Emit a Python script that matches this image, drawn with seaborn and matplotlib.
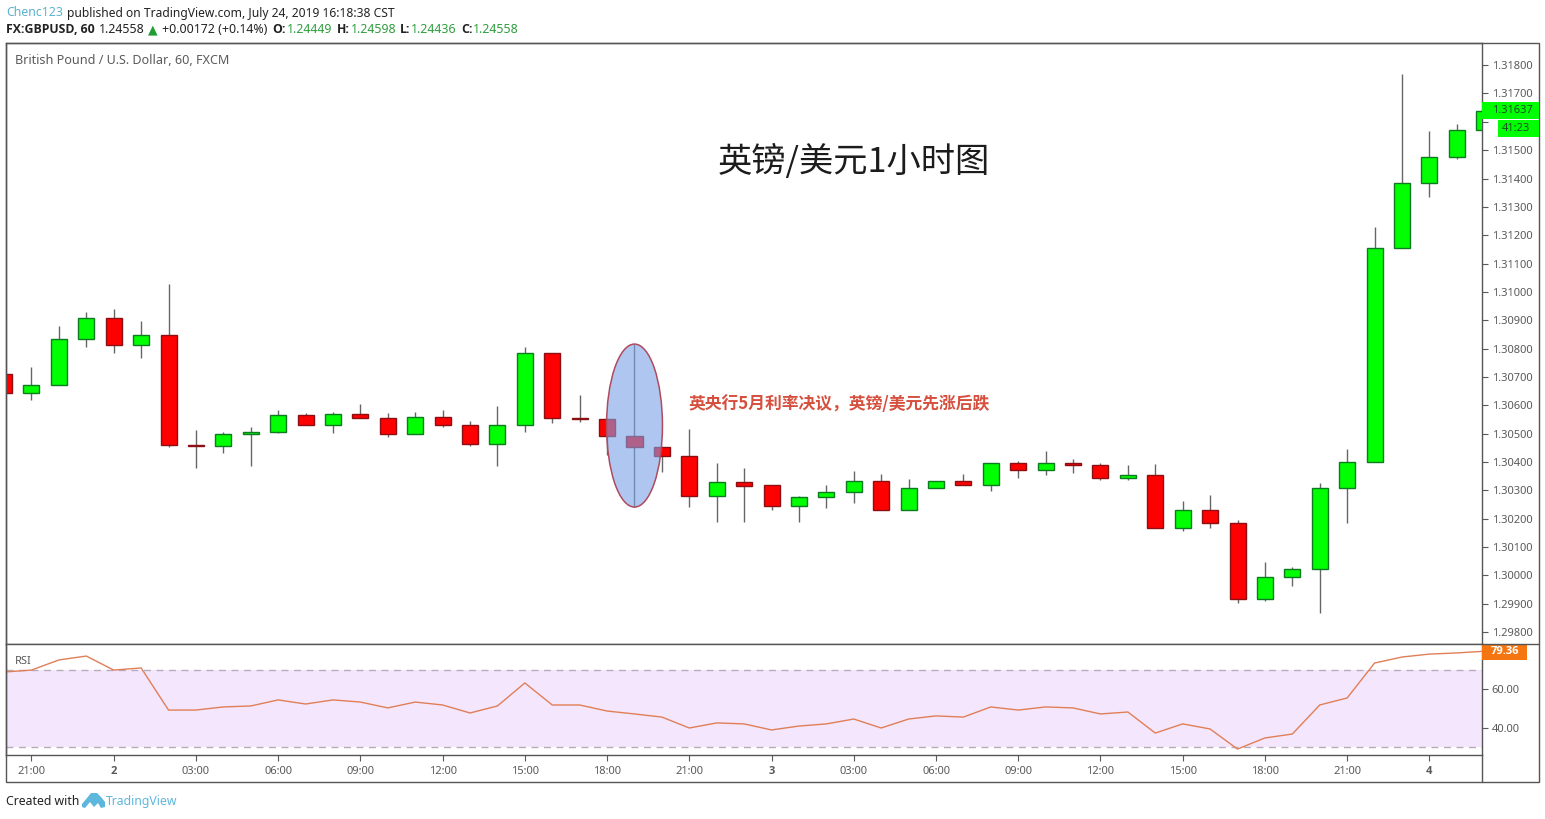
import pandas as pd
import matplotlib.pyplot as plt
import seaborn as sns
from matplotlib.lines import Line2D
from matplotlib.patches import Ellipse, Polygon, Rectangle

# candles, one per hour
opens = [1.30710, 1.30643, 1.30671, 1.30833, 1.30907, 1.30812, 1.30847, 1.30459, 1.30456, 1.30498, 1.30505,
         1.30565, 1.30530, 1.30569, 1.30555, 1.30498, 1.30558, 1.30530, 1.30463, 1.30530, 1.30784, 1.30555,
         1.30552, 1.30491, 1.30452, 1.30421, 1.30279, 1.30329, 1.30318, 1.30244, 1.30276, 1.30294, 1.30332,
         1.30230, 1.30308, 1.30332, 1.30318, 1.30396, 1.30371, 1.30396, 1.30389, 1.30343, 1.30353, 1.30167,
         1.30230, 1.30184, 1.29916, 1.29994, 1.30022, 1.30308, 1.30399, 1.31154, 1.31383, 1.31475, 1.31570]
highs = [1.30710, 1.30734, 1.30879, 1.30928, 1.30939, 1.30897, 1.31027, 1.30512, 1.30505, 1.30523, 1.30583,
         1.30572, 1.30576, 1.30604, 1.30572, 1.30576, 1.30583, 1.30544, 1.30597, 1.30805, 1.30784, 1.30636,
         1.30555, 1.30816, 1.30452, 1.30516, 1.30396, 1.30378, 1.30318, 1.30280, 1.30318, 1.30368, 1.30357,
         1.30339, 1.30332, 1.30357, 1.30396, 1.30403, 1.30438, 1.30410, 1.30396, 1.30389, 1.30392, 1.30262,
         1.30283, 1.30195, 1.30047, 1.30029, 1.30325, 1.30445, 1.31228, 1.31768, 1.31567, 1.31592, 1.31650]
lows = [1.30643, 1.30618, 1.30671, 1.30805, 1.30784, 1.30766, 1.30452, 1.30378, 1.30431, 1.30385, 1.30502,
        1.30530, 1.30502, 1.30555, 1.30487, 1.30498, 1.30523, 1.30456, 1.30385, 1.30505, 1.30537, 1.30540,
        1.30424, 1.30241, 1.30364, 1.30241, 1.30188, 1.30188, 1.30230, 1.30188, 1.30237, 1.30255, 1.30230,
        1.30230, 1.30308, 1.30318, 1.30297, 1.30343, 1.30353, 1.30360, 1.30336, 1.30336, 1.30167, 1.30156,
        1.30167, 1.29902, 1.29909, 1.29962, 1.29867, 1.30184, 1.30399, 1.31154, 1.31334, 1.31468, 1.31565]
closes = [1.30643, 1.30671, 1.30833, 1.30907, 1.30812, 1.30847, 1.30459, 1.30456, 1.30498, 1.30505, 1.30565,
          1.30530, 1.30569, 1.30555, 1.30498, 1.30558, 1.30530, 1.30463, 1.30530, 1.30784, 1.30555, 1.30552,
          1.30491, 1.30452, 1.30421, 1.30279, 1.30329, 1.30315, 1.30244, 1.30276, 1.30294, 1.30332, 1.30230,
          1.30308, 1.30332, 1.30318, 1.30396, 1.30371, 1.30396, 1.30389, 1.30343, 1.30353, 1.30167, 1.30230,
          1.30184, 1.29916, 1.29994, 1.30022, 1.30308, 1.30399, 1.31154, 1.31383, 1.31475, 1.31570, 1.31637]
rsi = [68.7, 69.7, 74.9, 76.9, 69.7, 70.8, 49.2, 49.2, 50.8, 51.3, 54.4, 52.3, 54.4, 53.3, 50.3, 53.3, 51.8, 47.7,
       51.3, 63.1, 51.8, 51.8, 48.7, 47.2, 45.6, 40.0, 42.6, 42.1, 39.0, 41.0, 42.1, 44.6, 40.0, 44.6, 46.2, 45.6,
       50.8, 49.2, 50.8, 50.3, 47.2, 48.2, 37.4, 42.1, 39.5, 29.2, 34.9, 36.9, 51.8, 55.4, 73.3, 76.4, 77.9, 78.5,
       79.36]

time_ticks = [1, 4, 7, 10, 13, 16, 19, 22, 25, 28, 31, 34, 37, 40, 43, 46, 49, 52]
time_labels = ['21:00', '2', '03:00', '06:00', '09:00', '12:00', '15:00', '18:00', '21:00', '3',
               '03:00', '06:00', '09:00', '12:00', '15:00', '18:00', '21:00', '4']
price_ticks = [1.298, 1.299, 1.300, 1.301, 1.302, 1.303, 1.304, 1.305, 1.306, 1.307, 1.308, 1.309, 1.310,
               1.311, 1.312, 1.313, 1.314, 1.315, 1.316, 1.317, 1.318]
price_hidden = 1.316  # sits under the last price tags
rsi_ticks = [40, 60]
rsi_upper, rsi_lower = 70, 30
rate_decision_bar = 23

W, H = 1545, 819
GREEN, RED = '#00ff00', '#ff0000'
GREEN_EDGE, RED_EDGE = '#0e7a22', '#8c0f14'
GREY = '#5a5a5a'
FRAME = '#555555'
CJK = ['Noto Sans CJK SC', 'DejaVu Sans']

sns.set_theme(style='white')
plt.rcParams['font.family'] = ['Noto Sans', 'Noto Sans CJK SC', 'DejaVu Sans']

df = pd.DataFrame({'bar': range(len(opens)), 'open': opens, 'high': highs, 'low': lows, 'close': closes, 'rsi': rsi})
df['up'] = df['close'] >= df['open']

fig = plt.figure(figsize=(W / 100, H / 100), dpi=100, facecolor='white')
ax = fig.add_axes([6 / W, 1 - 644 / H, 1476 / W, 601 / H])
ax_rsi = fig.add_axes([6 / W, 1 - 755 / H, 1476 / W, 111 / H], sharex=ax)


def fx(x):
    return x / W


def fy(y):
    return 1 - y / H


def label(x, y, s, **kw):
    kw.setdefault('fontsize', 8.9)
    kw.setdefault('color', '#222222')
    return fig.text(fx(x), fy(y), s, va='center', **kw)


def bold_label(x, y, s, **kw):
    return label(x, y, s, family='Open Sans', fontweight='bold', **kw)


# candles
ax.vlines(df['bar'], df['low'], df['high'], color='#666666', linewidth=1, zorder=2)
ax.bar(df['bar'], (df['close'] - df['open']).abs(), bottom=df[['open', 'close']].min(axis=1), width=0.584,
       color=[GREEN if u else RED for u in df['up']], edgecolor=[GREEN_EDGE if u else RED_EDGE for u in df['up']],
       linewidth=1, zorder=3)

# highlight round the rate decision bar
pick = df.loc[rate_decision_bar]
ax.add_patch(Ellipse((pick['bar'], (pick['high'] + pick['low']) / 2), 2.04, pick['high'] - pick['low'],
                     facecolor='#7aa3e6', alpha=0.6, edgecolor='none', zorder=4))
ax.add_patch(Ellipse((pick['bar'], (pick['high'] + pick['low']) / 2), 2.04, pick['high'] - pick['low'],
                     facecolor='none', edgecolor='#b04a5f', linewidth=1.1, zorder=5))

ax.set_xlim(0.07, 53.92)
ax.set_ylim(1.29758, 1.31878)
ax.yaxis.tick_right()
ax.set_yticks(price_ticks)
ax.set_yticklabels(['' if p == price_hidden else f'{p:.5f}' for p in price_ticks])
ax.tick_params(axis='y', length=4, width=0.8, color=GREY, labelcolor=GREY, labelsize=8, pad=3, right=True)
ax.tick_params(axis='x', bottom=False, labelbottom=False)
ax.set_xlabel('')
ax.set_ylabel('')

# rsi panel
ax_rsi.axhspan(rsi_lower, rsi_upper, color='#f4e6fd', linewidth=0, zorder=1)
for level in (rsi_upper, rsi_lower):
    ax_rsi.axhline(level, color='#b8acba', linewidth=1, dashes=(5, 4), zorder=2)
sns.lineplot(data=df, x='bar', y='rsi', ax=ax_rsi, color='#e07f57', linewidth=1, zorder=3, errorbar=None)
ax_rsi.set_ylim(26.15, 83.08)
ax_rsi.yaxis.tick_right()
ax_rsi.set_yticks(rsi_ticks)
ax_rsi.set_yticklabels([f'{v:.2f}' for v in rsi_ticks])
ax_rsi.tick_params(axis='y', length=4, width=0.8, color=GREY, labelcolor=GREY, labelsize=8, pad=3, right=True)
ax_rsi.set_xticks(time_ticks)
ax_rsi.set_xticklabels(time_labels)
ax_rsi.tick_params(axis='x', length=4, width=0.8, color=GREY, labelcolor=GREY, labelsize=8, pad=4, bottom=True)
for tick_text in ax_rsi.get_xticklabels():
    if len(tick_text.get_text()) == 1:
        tick_text.set_family('Open Sans')
        tick_text.set_fontweight('bold')
ax_rsi.set_xlabel('')
ax_rsi.set_ylabel('')

for a in (ax, ax_rsi):
    for spine in a.spines.values():
        spine.set_color(FRAME)
        spine.set_linewidth(1)
ax_rsi.spines['top'].set_visible(False)

# outer frame and the panel dividers
fig.add_artist(Rectangle((fx(6), fy(782)), 1533 / W, 739 / H, transform=fig.transFigure, fill=False,
                         edgecolor=FRAME, linewidth=1))
fig.add_artist(Line2D([fx(1482), fx(1482)], [fy(755), fy(782)], color=FRAME, linewidth=1))
fig.add_artist(Line2D([fx(6), fx(1539)], [fy(644), fy(644)], color=FRAME, linewidth=1))

# header
label(6, 13, 'Chenc123', color='#5bb3cf')
label(67, 13, 'published on TradingView.com, July 24, 2019 16:18:38 CST', fontsize=8.68)
bold_label(6, 29.5, 'FX:GBPUSD, 60', fontsize=8.8)
label(99, 29.5, '1.24558')
label(148, 29.5, '▲', color='#1f9e34', family='DejaVu Sans', fontsize=9)
label(162, 29.5, '+0.00172 (+0.14%)')
for x_key, key, x_val, val in [(272, 'O:', 287, '1.24449'), (337, 'H:', 351, '1.24598'),
                               (400, 'L:', 411, '1.24436'), (461, 'C:', 473, '1.24558')]:
    bold_label(x_key, 29.5, key, fontsize=8.8)
    label(x_val, 29.5, val, color='#2e9e3e')

label(15, 60.5, 'British Pound / U.S. Dollar, 60, FXCM', color='#5a5a5a', fontsize=9.05, fontweight='medium')
label(15, 661.5, 'RSI', color=GREY, fontsize=8)

# chart notes
label(718, 162.5, '英镑/美元1小时图', color='#1c1c1c', fontsize=24.7, family=CJK)
label(689, 404, '英央行5月利率决议，英镑/美元先涨后跌', color='#d6503f', fontsize=12.1, fontweight='bold', family=CJK)

# last price tags
fig.add_artist(Rectangle((fx(1482), fy(119)), 57 / W, 17 / H, transform=fig.transFigure, color=GREEN, linewidth=0))
fig.add_artist(Rectangle((fx(1498), fy(137)), 41 / W, 17 / H, transform=fig.transFigure, color=GREEN, linewidth=0))
label(1492, 110.5, '1.31637', color='#1a4d22', fontsize=8)
label(1502, 128.5, '41:23', color='#1a4d22', fontsize=8)
fig.add_artist(Rectangle((fx(1482), fy(660)), 45 / W, 16 / H, transform=fig.transFigure, color='#f57510', linewidth=0))
label(1491, 652, '79.36', color='white', fontsize=8, family='Open Sans', fontweight='bold')

# footer
label(6, 801.5, 'Created with', color='#222222', fontsize=8.8)
cloud = [(82, 807), (82, 804), (87, 798), (91, 793), (97, 793), (101, 797), (105, 802), (105, 807), (101, 808),
         (98, 803), (94, 807), (90, 802), (85, 808)]
fig.add_artist(Polygon([(fx(x), fy(y)) for x, y in cloud], closed=True, transform=fig.transFigure,
                       facecolor='#5db6dc', edgecolor='none'))
label(106, 801.5, 'TradingView', color='#5db6dc', fontsize=8.8)

plt.savefig('out.png', dpi=100)
